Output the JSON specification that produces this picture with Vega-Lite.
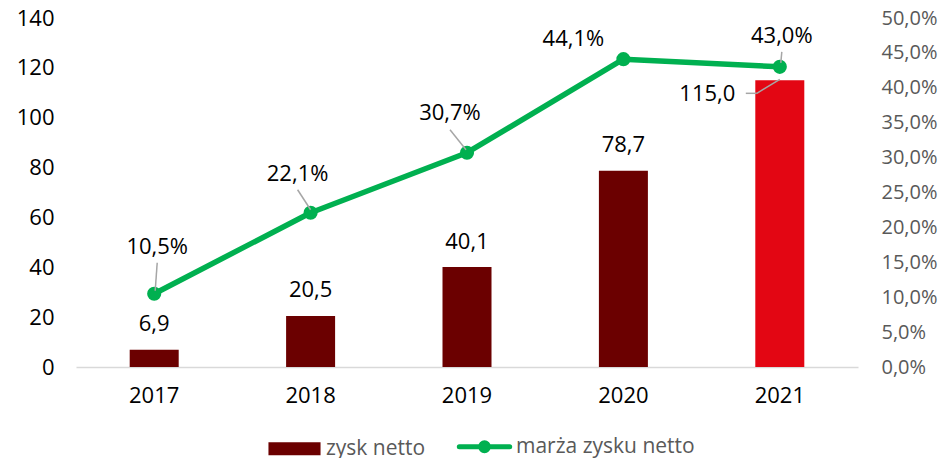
{
  "$schema": "https://vega.github.io/schema/vega-lite/v6.json",
  "width": 782,
  "height": 349,
  "autosize": {"type": "none"},
  "padding": {"left": 76, "top": 18, "right": 85, "bottom": 91},
  "data": {
    "values": [
      {"rok": "2017", "zysk": 6.9, "marza": 0.105},
      {"rok": "2018", "zysk": 20.5, "marza": 0.221},
      {"rok": "2019", "zysk": 40.1, "marza": 0.307},
      {"rok": "2020", "zysk": 78.7, "marza": 0.441},
      {"rok": "2021", "zysk": 115.0, "marza": 0.43}
    ]
  },
  "encoding": {
    "x": {
      "field": "rok",
      "type": "ordinal",
      "scale": {"paddingInner": 0, "paddingOuter": 0},
      "axis": {
        "title": null,
        "labelAngle": 0,
        "domain": true,
        "domainColor": "#D9D9D9",
        "domainWidth": 1.5,
        "ticks": false,
        "tickSize": 0,
        "labelPadding": 18,
        "labelFontSize": 22,
        "labelColor": "#000000",
        "labelFont": "Open Sans"
      }
    }
  },
  "layer": [
    {
      "layer": [
        {
          "mark": {"type": "bar", "width": 49},
          "encoding": {
            "y": {
              "field": "zysk",
              "type": "quantitative",
              "scale": {"domain": [0, 140]},
              "axis": {
                "title": null,
                "orient": "left",
                "values": [0, 20, 40, 60, 80, 100, 120, 140],
                "domain": false,
                "ticks": false,
                "tickSize": 0,
                "grid": false,
                "labelOverlap": false,
                "labelPadding": 22,
                "labelFontSize": 22,
                "labelColor": "#000000",
                "labelFont": "Open Sans"
              }
            },
            "color": {
              "condition": {"test": "datum.rok === '2021'", "value": "#E30613"},
              "datum": "zysk netto",
              "scale": {
                "domain": ["zysk netto", "marża zysku netto"],
                "range": ["#6B0000", "#00B050"]
              },
              "legend": {
                "orient": "none",
                "legendX": 208,
                "legendY": 418,
                "direction": "horizontal",
                "title": null,
                "padding": 0,
                "labelFont": "Open Sans",
                "labelFontSize": 21,
                "labelColor": "#595959",
                "labelLimit": 400,
                "labelOffset": 21,
                "columnPadding": 23,
                "symbolSize": 3136,
                "symbolType": "M-0.93,-0.232H0.93V0.232H-0.93Z",
                "encode": {
                  "symbols": {
                    "update": {
                      "shape": {"signal": "datum.value === 'zysk netto' ? 'M-0.93,-0.232H0.93V0.232H-0.93Z' : 'M-0.9,0H0.9M0.14,0A0.14,0.14,0,1,1,-0.14,0A0.14,0.14,0,1,1,0.14,0'"},
                      "fill": {"scale": "color", "field": "value"},
                      "stroke": {"scale": "color", "field": "value"},
                      "strokeWidth": {"signal": "datum.value === 'zysk netto' ? 0 : 5"},
                      "strokeCap": {"value": "round"},
                      "opacity": {"value": 1},
                      "fillOpacity": {"value": 1},
                      "strokeOpacity": {"value": 1}
                    }
                  }
                }
              }
            }
          }
        },
        {
          "mark": {
            "type": "text",
            "font": "Open Sans",
            "fontSize": 22,
            "color": "#000000",
            "align": "center",
            "baseline": "middle",
            "dx": {"expr": "datum.rok === '2021' ? -72.5 : 0"},
            "dy": {"expr": "datum.rok === '2021' ? 13.7 : -25.5"}
          },
          "encoding": {
            "y": {"field": "zysk", "type": "quantitative"},
            "text": {"field": "zysk", "type": "quantitative", "format": ".1f"}
          }
        },
        {
          "transform": [{"filter": "datum.rok === '2021'"}],
          "mark": {
            "type": "rule",
            "color": "#A6A6A6",
            "strokeWidth": 1.5,
            "xOffset": -34,
            "yOffset": 13,
            "x2Offset": -23,
            "y2Offset": 13
          },
          "encoding": {
            "x": {"field": "rok", "type": "ordinal", "bandPosition": 0.5},
            "x2": {"field": "rok", "bandPosition": 0.5},
            "y": {"field": "zysk", "type": "quantitative"},
            "y2": {"field": "zysk"}
          }
        },
        {
          "transform": [{"filter": "datum.rok === '2021'"}],
          "mark": {
            "type": "rule",
            "color": "#A6A6A6",
            "strokeWidth": 1.5,
            "xOffset": -23,
            "yOffset": 13,
            "x2Offset": 0,
            "y2Offset": -1
          },
          "encoding": {
            "x": {"field": "rok", "type": "ordinal", "bandPosition": 0.5},
            "x2": {"field": "rok", "bandPosition": 0.5},
            "y": {"field": "zysk", "type": "quantitative"},
            "y2": {"field": "zysk"}
          }
        }
      ]
    },
    {
      "layer": [
        {
          "mark": {"type": "line", "strokeWidth": 5.5, "strokeJoin": "round", "strokeCap": "round"},
          "encoding": {
            "y": {
              "field": "marza",
              "type": "quantitative",
              "scale": {"domain": [0, 0.5]},
              "axis": {
                "title": null,
                "orient": "right",
                "values": [0, 0.05, 0.1, 0.15, 0.2, 0.25, 0.3, 0.35, 0.4, 0.45, 0.5],
                "tickCount": 11,
                "format": ".1%",
                "domain": false,
                "ticks": false,
                "tickSize": 0,
                "grid": false,
                "labelOverlap": false,
                "labelSeparation": 0,
                "labelPadding": 23,
                "labelFontSize": 20,
                "labelColor": "#595959",
                "labelFont": "Open Sans"
              }
            },
            "color": {"datum": "marża zysku netto"}
          }
        },
        {
          "mark": {"type": "point", "filled": true, "size": 200, "opacity": 1},
          "encoding": {
            "y": {"field": "marza", "type": "quantitative"},
            "color": {"datum": "marża zysku netto"}
          }
        },
        {
          "mark": {
            "type": "text",
            "font": "Open Sans",
            "fontSize": 22,
            "color": "#000000",
            "align": "center",
            "baseline": "middle",
            "dx": {"expr": "{'2017': 3, '2018': -13, '2019': -17, '2020': -50, '2021': 2}[datum.rok]"},
            "dy": {"expr": "{'2017': -47, '2018': -38.5, '2019': -40, '2020': -20.5, '2021': -31}[datum.rok]"}
          },
          "encoding": {
            "y": {"field": "marza", "type": "quantitative"},
            "text": {"field": "marza", "type": "quantitative", "format": ".1%"}
          }
        },
        {
          "transform": [{"filter": "datum.rok !== '2020'"}],
          "mark": {
            "type": "rule",
            "color": "#A6A6A6",
            "strokeWidth": 1.5,
            "xOffset": {"expr": "{'2017': 3, '2018': -13, '2019': -17, '2021': 2}[datum.rok]"},
            "yOffset": {"expr": "{'2017': -31, '2018': -23, '2019': -23, '2021': -15}[datum.rok]"},
            "x2Offset": {"expr": "{'2017': 1, '2018': 0, '2019': -1, '2021': 1}[datum.rok]"},
            "y2Offset": {"expr": "{'2017': -3, '2018': -3, '2019': -3, '2021': -4}[datum.rok]"}
          },
          "encoding": {
            "x": {"field": "rok", "type": "ordinal", "bandPosition": 0.5},
            "x2": {"field": "rok", "bandPosition": 0.5},
            "y": {"field": "marza", "type": "quantitative"},
            "y2": {"field": "marza"}
          }
        }
      ]
    }
  ],
  "resolve": {"scale": {"y": "independent"}},
  "config": {
    "view": {"stroke": null},
    "font": "Open Sans",
    "axis": {"labelOverlap": false},
    "axisQuantitative": {"labelOverlap": false},
    "locale": {
      "number": {
        "decimal": ",",
        "thousands": "\u00a0",
        "grouping": [3],
        "currency": ["", " zł"]
      }
    }
  }
}
